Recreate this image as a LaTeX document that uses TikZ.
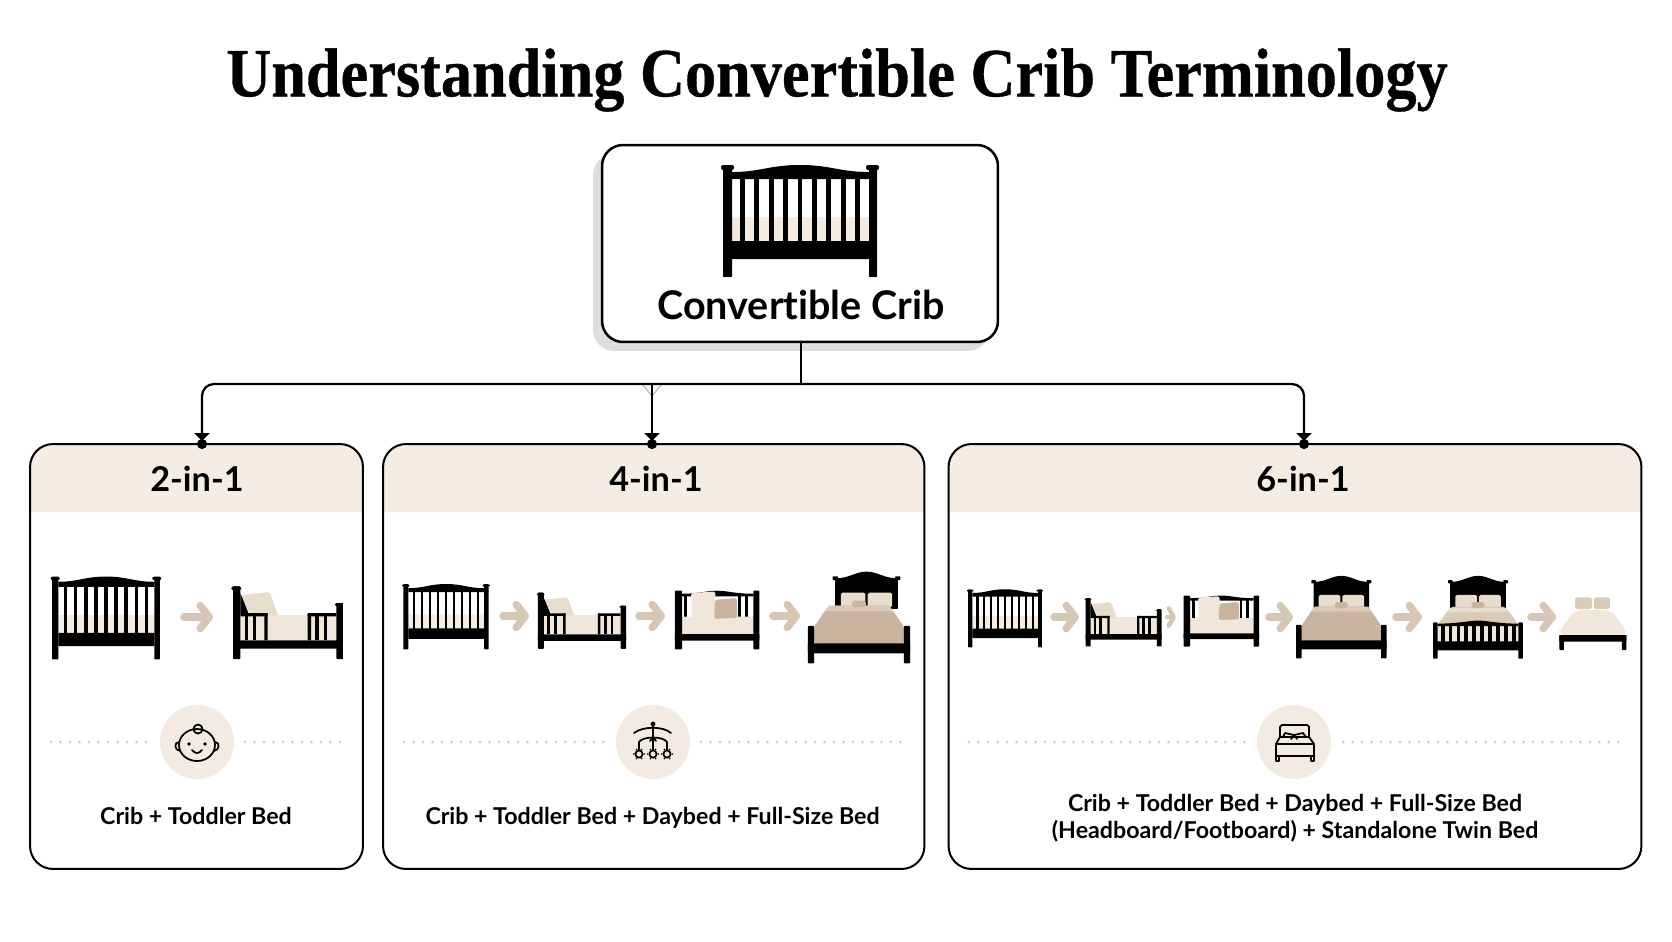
\documentclass[tikz,border=0pt]{standalone}
\usepackage{fontspec}
\usetikzlibrary{arrows.meta,backgrounds,shadows}
\setmainfont{Lato}[Ligatures=NoCommon]
\newfontfamily\titlefont[FakeStretch=0.9,BoldFeatures={FakeBold=0.5}]{Liberation Serif}
\definecolor{cream}{HTML}{F5EDE4}
\definecolor{disc}{HTML}{F3EBE2}
\definecolor{tanline}{HTML}{D5C6B6}
\definecolor{dotcol}{HTML}{D6CABC}
\definecolor{matfill}{HTML}{F0E6DA}
\definecolor{pilfill}{HTML}{E8DCCD}
\definecolor{blanket}{HTML}{C8B49F}
\definecolor{bandfill}{HTML}{DACBB9}
\newcommand{\bedtop}{
    \fill[bk] (-88,-25) -- (-88,-117) .. controls (-50,-117) and (-30,-137) .. (0,-137) .. controls (30,-137) and (50,-117) .. (88,-117) -- (88,-25) -- cycle;
    \fill[bk] (-95,-123) rectangle (-80,-112);
    \fill[bk] (80,-123) rectangle (95,-112);
    \fill[pilfill, rounded corners=1pt] (-72,-74) rectangle (-3,-30);
    \fill[pilfill, rounded corners=1pt] (3,-74) rectangle (72,-30);
}
\tikzset{
    bk/.style={fill=black, rounded corners=.4pt},
    crib/.pic={
        \fill[matfill!75] (-68,-4) rectangle (69,20);
        \fill[bk] (-77,-54) rectangle (-68,56);
        \fill[bk] (69,-54) rectangle (77,56);
        \fill[black, rounded corners=1.2pt] (-79,-56) rectangle (-66,-51);
        \fill[black, rounded corners=1.2pt] (66,-56) rectangle (79,-51);
        \fill[bk] (-68,-42) -- (-68,-49) .. controls (-40,-49) and (-30,-56) .. (0,-56) .. controls (30,-56) and (40,-49) .. (69,-49) -- (69,-42) -- cycle;
        \fill[bk] (-68,20) rectangle (69,38);
        \foreach \x in {-57.6,-43.2,...,58} {
            \fill[black] (\x-2.4,-43) rectangle (\x+2.4,21);
        }
    },
    toddler/.pic={
        \fill[matfill] (-143,-23) rectangle (145,52);
        \fill[pilfill, rounded corners=1.5pt] (-143,-83) -- (-55,-93) -- (-28,-18) -- (-113,-28) -- cycle;
        \fill[bk] (-165,-110) rectangle (-143,108);
        \fill[black, rounded corners=1pt] (-170,-110) rectangle (-140,-98);
        \fill[bk] (-143,-90) -- (-118,-28) -- (-143,-28) -- cycle;
        \fill[bk] (145,-60) rectangle (165,108);
        \fill[black, rounded corners=1pt] (140,-60) rectangle (160,-50);
        \fill[bk] (-165,52) rectangle (165,77);
        \fill[bk] (-143,-30) rectangle (-61,-20);
        \fill[bk] (-71,-30) rectangle (-61,52);
        \fill[bk] (59,-30) rectangle (145,-20);
        \fill[bk] (59,-30) rectangle (69,52);
        \foreach \x in {-125,-100,87,112} {
            \fill[black] (\x-5,-25) rectangle (\x+5,52);
        }
    },
    daybed/.pic={
        \fill[bk] (-98,-70) -- (-98,-78) .. controls (-50,-78) and (-30,-87) .. (0,-87) .. controls (30,-87) and (50,-78) .. (102,-78) -- (102,-70) -- cycle;
        \foreach \x in {-88,62,82} {
            \fill[black] (\x-4,-75) rectangle (\x+4,0);
        }
        \fill[matfill, rounded corners=1pt] (-105,-9) rectangle (107,43);
        \fill[matfill, rounded corners=1pt] (-73,-80) -- (-5,-85) -- (-3,-7) -- (-70,-5) -- cycle;
        \fill[blanket, rounded corners=1pt] (-5,-60) -- (55,-65) -- (57,-5) -- (-8,-3) -- cycle;
        \fill[bk] (-118,-87) rectangle (-98,89);
        \fill[bk] (102,-87) rectangle (119,89);
        \fill[bk] (-118,43) rectangle (119,63);
    },
    pics/fullbed/.style={code={
        \begin{scope}[shift={(#1,0)}]
            \bedtop
        \end{scope}
        \fill[blanket, rounded corners=2pt] (-85,-35) -- (85,-35) -- (127,30) -- (127,80) -- (-127,80) -- (-127,30) -- cycle;
        \fill[bandfill] (-85,-35) -- (85,-35) -- (95,-18) -- (-95,-18) -- cycle;
        \fill[blanket, rounded corners=1pt] (-20,-50) rectangle (20,-30);
        \fill[bk] (-143,26) rectangle (-126,138);
        \fill[bk] (126,26) rectangle (143,138);
        \fill[bk] (-143,78) rectangle (143,108);
    }},
    slatbed/.pic={
        \bedtop
        \fill[bandfill, rounded corners=2pt] (-85,-35) -- (85,-35) -- (125,20) -- (125,85) -- (-125,85) -- (-125,20) -- cycle;
        \fill[pilfill] (-88,-30) -- (88,-30) -- (96,-16) -- (-96,-16) -- cycle;
        \fill[matfill] (-126,28) rectangle (126,85);
        \fill[blanket, rounded corners=1pt] (-20,-50) rectangle (20,-30);
        \foreach \x in {-112,-87,...,115} {
            \fill[black] (\x-6,25) rectangle (\x+6,85);
        }
        \fill[bk] (-128,30) -- (-128,22) .. controls (-60,22) and (-30,12) .. (0,12) .. controls (30,12) and (60,22) .. (128,22) -- (128,30) -- cycle;
        \fill[bk] (-142,18) rectangle (-128,139);
        \fill[bk] (128,18) rectangle (142,139);
        \fill[bk] (-142,81) rectangle (142,111);
    },
    twinbed/.pic={
        \fill[matfill, rounded corners=4pt] (-40,-41) -- (40,-41) -- (75,20) -- (75,36) -- (-75,36) -- (-75,20) -- cycle;
        \fill[bandfill, rounded corners=1pt] (-40,-79) rectangle (-2,-44);
        \fill[bandfill, rounded corners=1pt] (2,-79) rectangle (38,-44);
        \fill[bk] (-75,34) rectangle (75,54);
        \fill[bk] (-75,34) rectangle (-65,79);
        \fill[bk] (65,34) rectangle (75,79);
    },
    babyface/.pic={
        \draw[iconline] (0,3) circle [x radius=18, y radius=16];
        \draw[iconline] (-18,0) .. controls (-23,0) and (-23,8) .. (-17,9);
        \draw[iconline] (18,0) .. controls (23,0) and (23,8) .. (17,9);
        \draw[iconline] (1,-13) circle [radius=4.5];
        \fill (-8,2) circle [radius=1.9];
        \fill (8,2) circle [radius=1.9];
        \draw[iconline] (-5,8) .. controls (-2,12) and (2,12) .. (5,8);
    },
    mobile/.pic={
        \draw[iconline] (0,-18) circle [radius=1.8];
        \draw[iconline] (0,-16) -- (0,8);
        \draw[iconline] (-19,-9) .. controls (-10,-16) and (10,-16) .. (18,-9);
        \draw[iconline] (-14,8) -- (-14,0) .. controls (-10,-6) and (10,-6) .. (14,0) -- (14,8);
        \draw[iconline] (-3,-1) .. controls (-2,-4) and (2,-4) .. (3,-1);
        \foreach \x in {-14,0,14} {
            \draw[iconline] (\x,12) circle [radius=3.6];
            \foreach \a in {0,60,...,300} {
                \fill (\x,12) ++(\a:5.2) circle [radius=.9];
            }
        }
    },
    bedicon/.pic={
        \draw[iconline, rounded corners=1pt] (-14,-5) -- (-14,-17) -- (15,-17) -- (15,-5);
        \draw[iconline] (-18,2) -- (-14,-5) -- (15,-5) -- (20,2);
        \draw[iconline] (-11,-5) -- (-9,-9) -- (0,-7) -- (9,-9) -- (12,-5);
        \draw[iconline] (0,-7) -- (-3,-3);
        \draw[iconline] (0,-7) -- (3,-3);
        \draw[iconline] (-18,2) rectangle (20,14);
        \draw[iconline] (-18,14) -- (-18,19) -- (-15,19) -- (-15,14);
        \draw[iconline] (17,14) -- (17,19) -- (20,19) -- (20,14);
    },
}
\newcommand{\cardhead}[1]{
    \fill[cream] (#1.north west |- headline) [rounded corners=.46cm] -- (#1.north west) -- (#1.north east) [sharp corners] -- (#1.north east |- headline) -- cycle;
}
\begin{document}
\begin{tikzpicture}[
            x=0.02cm, y=-0.02cm,
            rootbox/.style={draw, line width=.05cm, rounded corners=.42cm, fill=white, minimum width=7.92cm, minimum height=3.94cm,
                drop shadow={shadow xshift=-.18cm, shadow yshift=-.18cm, fill=black!13, opacity=1}},
            card/.style={draw, line width=.04cm, rounded corners=.46cm, minimum height=8.5cm},
            rootlabel/.style={font=\bfseries\fontsize{22.5}{26}\selectfont},
            cardtitle/.style={font=\bfseries\fontsize{19.5}{24}\selectfont},
            cardtext/.style={font=\bfseries\fontsize{13.2}{15.6}\selectfont, align=center},
            disc node/.style={circle, fill=disc, minimum size=1.48cm, inner sep=0pt},
            iconline/.style={draw=black, line width=.035cm, line join=round, line cap=round},
            link/.style={draw, line width=.045cm},
            drop/.style={draw, line width=.045cm, rounded corners=.24cm,
                -{Triangle[width=.3cm,length=.16cm,sep=-.04cm]Circle[length=.2cm]}},
            stepline/.style={draw=tanline, line width=.15cm, line cap=round,
                -{Straight Barb[length=.18cm,width=.46cm,line width=.15cm,round]}},
            dotline/.style={draw=dotcol, line width=.06cm, line cap=round, dash pattern=on 0pt off .19cm},
            ]
            \useasboundingbox (0,0) rectangle (1672,941);
            \coordinate (headline) at (0,512);

            \node (title) at (837,80) {\titlefont\bfseries\fontsize{39.4}{46}\selectfont Understanding Convertible Crib Terminology};

            \node (root) [rootbox] at (800,243.5) {};
            \pic at (800,221) {crib};
            \node (rootname) [rootlabel] at (801,305) {Convertible Crib};

            \node (card1) [card, minimum width=6.66cm] at (196.5,656.5) {};
            \node (card2) [card, minimum width=10.83cm] at (653.75,656.5) {};
            \node (card3) [card, minimum width=13.86cm] at (1295,656.5) {};
            \begin{scope}[on background layer]
                \cardhead{card1}
                \cardhead{card2}
                \cardhead{card3}
            \end{scope}
            \node (head1) [cardtitle] at (197,479) {2-in-1};
            \node (head2) [cardtitle] at (656,479) {4-in-1};
            \node (head3) [cardtitle] at (1303,479) {6-in-1};

            % connectors
            \coordinate (bus) at (801,384);
            \coordinate (in1) at (202,449);
            \coordinate (in2) at (652,449);
            \coordinate (in3) at (1304,449);
            \coordinate (ya) at (643,385);
            \coordinate (yb) at (652,396);
            \coordinate (yc) at (661,385);
            \draw[gray!60, line width=.02cm] (ya) -- (yb) -- (yc);
            \draw[link] (root.south -| bus) -- (bus);
            \draw[drop] (bus) -| (in1);
            \draw[drop] (bus) -| (in3);
            \draw[drop] (bus -| in2) -- (in2);

            % card 1
            \pic[xscale=.70, yscale=.74] at (106,618) {crib};
            \pic[scale=.3333] at (288,623) {toddler};
            \coordinate (s1) at (184,617);
            \coordinate (e1) at (213,617);
            \draw[stepline] (s1) -- (e1);

            % card 2
            \pic[xscale=.554, yscale=.583] at (446,616.7) {crib};
            \pic[xscale=.267, yscale=.257] at (582,621) {toddler};
            \pic[xscale=.357, yscale=.333] at (717,619.7) {daybed};
            \pic[xscale=.357, yscale=.333] at (859,617.3) {fullbed=21};
            \foreach \n/\l/\r in {a/503/529, b/639/665, c/773/800} {
                \coordinate (s\n) at (\l,616);
                \coordinate (e\n) at (\r,616);
                \draw[stepline] (s\n) -- (e\n);
            }

            % card 3
            \pic[xscale=.48, yscale=.518] at (1005,618.3) {crib};
            \pic[xscale=.23, yscale=.222] at (1123.6,622.5) {toddler};
            \pic[xscale=.318, yscale=.29] at (1221.2,620.8) {daybed};
            \pic[xscale=.316, yscale=.30] at (1341.3,617) {fullbed=0};
            \pic[xscale=.316, yscale=.30] at (1478,617) {slatbed};
            \pic[xscale=.446, yscale=.3333] at (1592.9,623.7) {twinbed};
            \foreach \n/\l/\r in {d/1054/1079, e/1269/1293, f/1396/1422, g/1531/1556} {
                \coordinate (s\n) at (\l,617);
                \coordinate (e\n) at (\r,617);
                \draw[stepline] (s\n) -- (e\n);
            }
            \coordinate (sh) at (1167,617);
            \coordinate (eh) at (1176,617);
            \draw[draw=tanline, line width=.09cm, line cap=round, -{Straight Barb[length=.1cm,width=.34cm,line width=.09cm,round]}] (sh) -- (eh);

            % discs and dotted rules
            \node (disc1) [disc node] at (197,742) {};
            \node (disc2) [disc node] at (653,742) {};
            \node (disc3) [disc node] at (1294,742) {};
            \pic at (197,742) {babyface};
            \pic at (653,742) {mobile};
            \pic at (1294,742) {bedicon};
            \foreach \n/\a/\b/\c/\d in {1/51/148/245/343, 2/404/605/701/902, 3/969/1247/1343/1622} {
                \coordinate (la\n) at (\a,742);
                \coordinate (lb\n) at (\b,742);
                \coordinate (ra\n) at (\c,742);
                \coordinate (rb\n) at (\d,742);
                \draw[dotline] (la\n) -- (lb\n);
                \draw[dotline] (ra\n) -- (rb\n);
            }

            \node (text1) [cardtext] at (196,816) {Crib + Toddler Bed};
            \node (text2) [cardtext] at (652.5,818) {Crib + Toddler Bed + Daybed + Full-Size Bed};
            \node (text3) [cardtext] at (1295,818) {Crib + Toddler Bed + Daybed + Full-Size Bed\\(Headboard/Footboard) + Standalone Twin Bed};
        \end{tikzpicture}
\end{document}
